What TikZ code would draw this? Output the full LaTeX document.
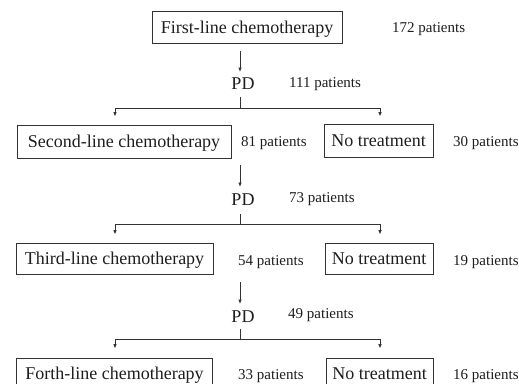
\documentclass[tikz,border=0pt]{standalone}
\usepackage{fontspec}
\setmainfont{Liberation Serif}
\usetikzlibrary{arrows.meta}
\definecolor{ink}{HTML}{1E1E1E}
\definecolor{wire}{HTML}{333333}
\tikzset{
  box/.style={draw=wire, line width=0.9pt, text=ink, inner sep=0pt, minimum height=32pt,
    text height=15pt, text depth=4pt, font=\fontsize{18}{20}\selectfont},
  pd/.style={text=ink, inner sep=0pt, anchor=base, font=\fontsize{18}{20}\selectfont},
  cnt/.style={text=ink, inner sep=0pt, anchor=base west, font=\fontsize{15}{17}\selectfont},
  wireline/.style={draw=wire, line width=0.85pt},
  arr/.style={wireline, -{Latex[length=4.5pt,width=3.6pt]}}
}
\begin{document}
\begin{tikzpicture}[x=1pt,y=-1pt]
\useasboundingbox (0,0) rectangle (519,383);
\clip (0,0) rectangle (519,383);
\fill[white] (0,0) rectangle (519,383);

% level 0
\node[box, minimum width=190pt] (b1) at (247,27.5) {First-line chemotherapy};
\node[cnt] (n1) at (392,32) {172 patients};
\node[pd] (pd1) at (243,89) {PD};
\node[cnt] (l1) at (289,87) {111 patients};
\coordinate (j1) at (240,108);

% level 1
\node[box, minimum width=214pt, minimum height=33pt] (b2) at (124,141.5) {Second-line chemotherapy};
\node[cnt] (p2) at (241,146) {81 patients};
\node[box, minimum width=109pt, minimum height=33pt] (nt2) at (378.5,140.5) {No treatment};
\node[cnt] (q2) at (453,146) {30 patients};
\node[pd] (pd2) at (243,205) {PD};
\node[cnt] (l2) at (289,202) {73 patients};
\coordinate (j2) at (240,224);

% level 2
\node[box, minimum width=197pt, minimum height=31pt] (b3) at (114.5,258.5) {Third-line chemotherapy};
\node[cnt] (p3) at (238,265) {54 patients};
\node[box, minimum width=108pt, minimum height=31pt] (nt3) at (379,258.5) {No treatment};
\node[cnt] (q3) at (453,265) {19 patients};
\node[pd] (pd3) at (243,322) {PD};
\node[cnt] (l3) at (288,318) {49 patients};
\coordinate (j3) at (240,339);

% level 3
\node[box, minimum width=196pt] (b4) at (114.5,374) {Forth-line chemotherapy};
\node[cnt] (p4) at (238,379) {33 patients};
\node[box, minimum width=107pt] (nt4) at (379.5,374) {No treatment};
\node[cnt] (q4) at (453,379) {16 patients};

% connectors level 0 -> 1
\draw[arr] ([yshift=-7pt]b1.south -| j1) -- ([yshift=5pt]pd1.north -| j1);
\draw[wireline] ([yshift=-8pt]pd1.south -| j1) -- (j1);
\draw[arr] (j1) -| ([xshift=-9pt,yshift=8pt]b2.north);
\draw[arr] (j1) -| ([xshift=1.5pt,yshift=7pt]nt2.north);

% connectors level 1 -> 2
\draw[arr] ([yshift=-7pt]b2.south -| j2) -- ([yshift=6pt]pd2.north -| j2);
\draw[wireline] ([yshift=-9pt]pd2.south -| j2) -- (j2);
\draw[arr] (j2) -| ([xshift=0.5pt,yshift=8pt]b3.north);
\draw[arr] (j2) -| ([xshift=1pt,yshift=8pt]nt3.north);

% connectors level 2 -> 3
\draw[arr] ([yshift=-8pt]b3.south -| j3) -- ([yshift=6pt]pd3.north -| j3);
\draw[wireline] ([yshift=-7pt]pd3.south -| j3) -- (j3);
\draw[arr] (j3) -| ([xshift=0.5pt,yshift=9pt]b4.north);
\draw[arr] (j3) -| ([xshift=0.5pt,yshift=9pt]nt4.north);
\end{tikzpicture}
\end{document}
